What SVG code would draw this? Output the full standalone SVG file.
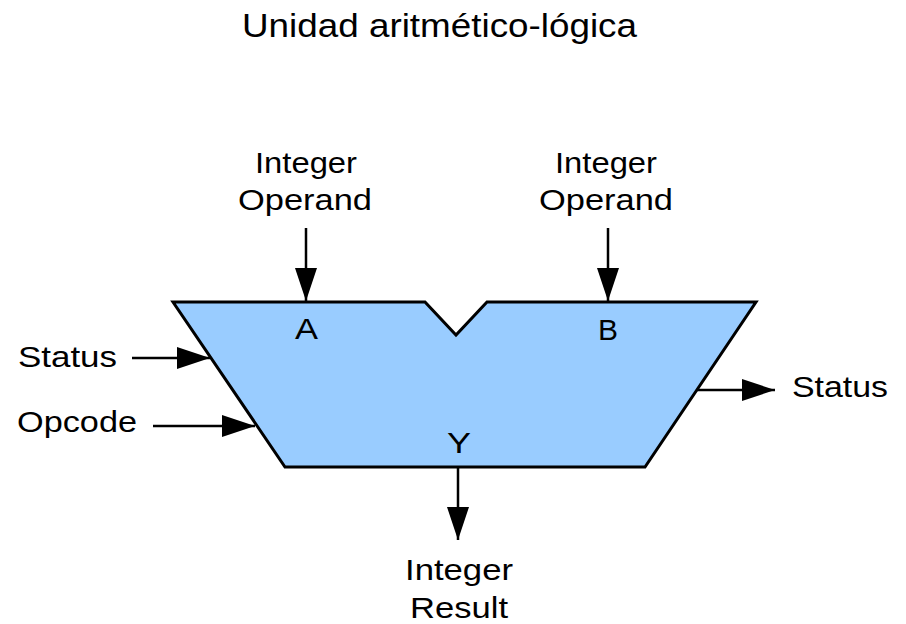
<svg xmlns="http://www.w3.org/2000/svg" width="906" height="624" viewBox="0 0 906 624">
  <style>
    .t { font-family: "Liberation Sans", Arial, sans-serif; font-size: 30px; fill: #000; }
    .title { font-family: "Liberation Sans", Arial, sans-serif; font-size: 34px; fill: #000; }
    .c { stroke: #000; stroke-width: 2.5; fill: none; marker-end: url(#ah); }
    .alu { fill: #99ccff; stroke: #000; stroke-width: 3; stroke-linejoin: miter; }
  </style>
  <defs>
    <marker id="ah" markerUnits="userSpaceOnUse" markerWidth="34" markerHeight="22" refX="33" refY="11" orient="auto">
      <path d="M0,0 L33,11 L0,22 Z" fill="#000"/>
    </marker>
  </defs>
  <rect width="906" height="624" fill="#fff"/>
  <text class="title" x="242" y="37" textLength="395" lengthAdjust="spacingAndGlyphs">Unidad aritmético-lógica</text>

  <g id="alu">
    <polygon class="alu" points="173,302 425,302 456,335 487,302 756,302 645,467 285,467"/>
    <text class="t" x="295" y="339" textLength="23" lengthAdjust="spacingAndGlyphs">A</text>
    <text class="t" x="598" y="340" textLength="20" lengthAdjust="spacingAndGlyphs">B</text>
    <text class="t" x="447" y="453" textLength="24" lengthAdjust="spacingAndGlyphs">Y</text>
  </g>

  <g id="inA">
    <text class="t" x="255" y="173" textLength="102" lengthAdjust="spacingAndGlyphs">Integer</text>
    <text class="t" x="238" y="210" textLength="134" lengthAdjust="spacingAndGlyphs">Operand</text>
  </g>
  <g id="inB">
    <text class="t" x="555" y="173" textLength="102" lengthAdjust="spacingAndGlyphs">Integer</text>
    <text class="t" x="539" y="210" textLength="134" lengthAdjust="spacingAndGlyphs">Operand</text>
  </g>
  <g id="statusIn">
    <text class="t" x="18" y="367" textLength="99" lengthAdjust="spacingAndGlyphs">Status</text>
  </g>
  <g id="opcode">
    <text class="t" x="17" y="432" textLength="120" lengthAdjust="spacingAndGlyphs">Opcode</text>
  </g>
  <g id="statusOut">
    <text class="t" x="792" y="397" textLength="96" lengthAdjust="spacingAndGlyphs">Status</text>
  </g>
  <g id="result">
    <text class="t" x="405" y="580" textLength="108" lengthAdjust="spacingAndGlyphs">Integer</text>
    <text class="t" x="410" y="618" textLength="98" lengthAdjust="spacingAndGlyphs">Result</text>
  </g>

  <g id="connectors">
    <line class="c" x1="306" y1="228" x2="306" y2="301"/>
    <line class="c" x1="608" y1="228" x2="608" y2="301"/>
    <line class="c" x1="132" y1="358" x2="210" y2="358"/>
    <line class="c" x1="153" y1="426" x2="255" y2="426"/>
    <line class="c" x1="697" y1="390" x2="775" y2="390"/>
    <line class="c" x1="458" y1="468" x2="458" y2="540"/>
  </g>
</svg>
